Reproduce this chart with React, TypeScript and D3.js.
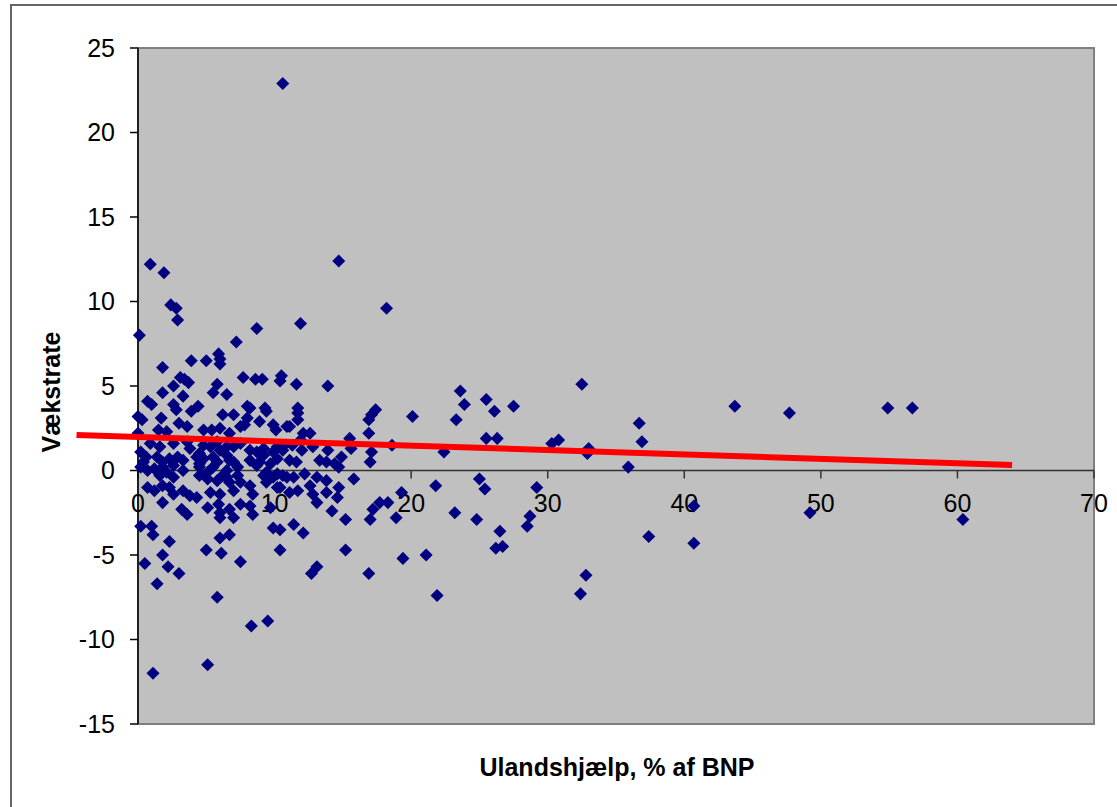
import * as d3 from "d3";

// Ulandshjælp (% af BNP) vs. vækstrate, one entry per observation
const aid = [
  10.6, 14.7, 0.9, 1.9, 2.4, 2.8, 2.9, 0.1, 8.7, 11.9,
  18.2, 7.2, 3.9, 5.0, 5.9, 6.0, 6.0, 1.8, 3.1, 3.4,
  3.7, 2.6, 7.7, 8.6, 9.1, 10.5, 10.4, 5.8, 5.5, 6.5,
  1.8, 3.3, 0.7, 1.0, 2.6, 2.8, 4.4, 3.9, 8.0, 8.2,
  9.3, 9.4, 6.2, 7.0, 0.0, 0.3, 1.7, 8.0, 7.8, 8.9,
  9.9, 10.1, 10.9, 3.0, 3.6, 2.1, 1.5, 4.8, 5.4, 6.0,
  6.7, 7.5, 0.0, 11.6, 13.9, 23.6, 23.9, 23.3, 20.1, 11.7,
  11.7, 11.7, 17.4, 17.1, 16.9, 11.1, 12.1, 12.6, 11.9, 16.9,
  15.5, 15.6, 10.6, 11.3, 12.0, 12.8, 13.9, 14.9, 18.6, 22.4,
  17.1, 17.0, 11.6, 13.3, 13.8, 14.4, 14.7, 10.6, 11.4, 12.2,
  13.1, 13.8, 15.8, 10.4, 11.1, 11.7, 12.6, 12.8, 13.8, 14.7,
  14.6, 13.1, 14.2, 15.2, 17.7, 18.3, 17.2, 17.0, 18.9, 19.3,
  21.8, 23.2, 24.8, 10.4, 11.4, 12.1, 15.2, 10.4, 13.1, 12.7,
  16.9, 19.4, 21.1, 21.9, 32.5, 25.5, 26.1, 27.5, 43.7, 36.7,
  36.9, 25.5, 26.3, 30.3, 30.8, 33.0, 32.9, 35.9, 25.0, 25.4,
  29.2, 28.7, 28.5, 26.5, 26.2, 26.7, 40.7, 37.4, 40.7, 32.8,
  32.4, 54.9, 56.7, 47.7, 60.4, 49.2, 0.2, 1.0, 1.1, 2.3,
  0.5, 1.8, 2.2, 3.0, 1.4, 5.0, 6.1, 6.0, 6.7, 7.5,
  9.9, 5.8, 8.3, 9.5, 1.1, 5.1, 0.2, 0.6,
  // dense cluster near zero
  0.9, 1.6, 2.6, 3.6, 3.8, 4.5, 4.8, 5.3, 5.8, 6.0,
  6.5, 7.0, 7.5, 8.2, 8.7, 9.2, 9.9, 10.2, 10.6,
  0.4, 1.4, 1.8, 2.3, 2.9, 3.3, 4.3, 4.5, 4.8, 5.5,
  5.8, 6.5, 6.7, 7.0, 8.2, 8.9, 9.2, 9.7, 10.2, 11.1,
  0.2, 0.7, 1.2, 1.8, 2.1, 2.6, 3.3, 4.5, 5.1, 5.5,
  6.2, 6.5, 7.3, 7.3, 8.7, 9.4, 10.2, 10.9, 1.6, 2.6,
  4.5, 5.1, 6.5, 9.2, 9.9,
  0.7, 1.2, 1.8, 2.3, 2.6, 3.3, 3.8, 4.3, 5.3, 5.8,
  6.0, 6.7, 7.0, 7.5, 8.2, 8.4, 9.4, 10.2,
  1.8, 3.2, 3.6, 5.1, 5.9, 6.0, 6.7, 7.0, 7.5, 8.2,
  8.4, 9.7, 6.0,
];

const growth = [
  22.9, 12.4, 12.2, 11.7, 9.8, 9.6, 8.9, 8.0, 8.4, 8.7,
  9.6, 7.6, 6.5, 6.5, 6.9, 6.6, 6.3, 6.1, 5.5, 5.4,
  5.2, 5.0, 5.5, 5.4, 5.4, 5.6, 5.3, 5.1, 4.6, 4.5,
  4.6, 4.4, 4.1, 3.9, 3.9, 3.6, 3.8, 3.5, 3.8, 3.7,
  3.7, 3.5, 3.3, 3.3, 3.2, 3.0, 3.1, 3.1, 2.7, 2.9,
  2.7, 2.4, 2.6, 2.8, 2.6, 2.3, 2.4, 2.4, 2.4, 2.5,
  2.2, 2.6, 2.2, 5.1, 5.0, 4.7, 3.9, 3.0, 3.2, 3.7,
  3.4, 3.0, 3.6, 3.3, 3.0, 2.6, 2.2, 2.2, 1.8, 2.2,
  1.9, 1.3, 1.4, 1.5, 1.2, 1.4, 1.2, 0.8, 1.5, 1.1,
  1.1, 0.5, 0.5, 0.6, 0.5, 0.4, 0.2, -0.3, -0.4, -0.2,
  -0.4, -0.6, -0.5, -1.0, -1.3, -1.2, -0.9, -1.4, -1.3, -1.0,
  -1.6, -1.9, -2.4, -2.9, -1.9, -1.9, -2.3, -2.9, -2.8, -1.3,
  -0.9, -2.5, -2.9, -3.5, -3.2, -3.7, -4.7, -4.7, -5.7, -6.1,
  -6.1, -5.2, -5.0, -7.4, 5.1, 4.2, 3.5, 3.8, 3.8, 2.8,
  1.7, 1.9, 1.9, 1.6, 1.8, 1.3, 1.0, 0.2, -0.5, -1.1,
  -1.0, -2.7, -3.3, -3.6, -4.6, -4.5, -2.1, -3.9, -4.3, -6.2,
  -7.3, 3.7, 3.7, 3.4, -2.9, -2.5, -3.3, -3.3, -3.8, -4.2,
  -5.5, -5.0, -5.7, -6.1, -6.7, -4.7, -4.9, -4.0, -3.8, -5.4,
  -3.4, -7.5, -9.2, -8.9, -12.0, -11.5, 1.1, 0.8,
  // dense cluster near zero
  1.6, 1.4, 1.6, 1.7, 1.3, 1.0, 1.5, 1.4, 1.7, 1.2,
  1.4, 1.4, 1.6, 1.2, 1.1, 1.3, 1.1, 1.4, 1.2,
  0.5, 0.8, 0.5, 0.7, 0.8, 0.6, 0.8, 0.4, 0.7, 0.8,
  0.5, 0.9, 0.6, 0.5, 0.6, 0.5, 0.9, 0.4, 0.7, 0.6,
  0.2, 0.0, 0.1, 0.2, -0.1, 0.3, 0.0, 0.2, -0.1, 0.2,
  -0.3, 0.0, 0.2, -0.3, 0.3, -0.1, -0.2, -0.4, -0.3, -0.4,
  -0.3, -0.5, -0.4, -0.3, -0.4,
  -1.0, -1.2, -0.9, -1.0, -1.4, -1.2, -1.5, -1.6, -1.3, -0.6,
  -1.4, -0.7, -1.2, -0.7, -0.9, -1.4, -0.7, -1.0,
  -1.9, -2.3, -2.6, -2.2, -2.0, -2.5, -2.3, -2.8, -2.0, -2.1,
  -2.6, -2.2, -2.8,
];

// linear trend line end points
const trendX = [-4.5, 64];
const trendY = [2.1, 0.33];

const xTicks = [0, 10, 20, 30, 40, 50, 60, 70];
const yTicks = [-15, -10, -5, 0, 5, 10, 15, 20, 25];

const W = 1117;
const H = 807;
const font = "'Liberation Sans', Arial, sans-serif";

export default function App() {
  const x = d3.scaleLinear().domain([0, 70]).range([138, 1094]);
  const y = d3.scaleLinear().domain([-15, 25]).range([724, 48]);
  const y0 = y(0);

  const diamond = d3.symbol(d3.symbolSquare, 85)()!;
  const trend = d3
    .line<number>()
    .x((d) => x(d))
    .y((_, i) => y(trendY[i]))(trendX)!;

  return (
    <svg
      width={W}
      height={H}
      style={{ position: "absolute", left: 0, top: 0, display: "block" }}
      fontFamily={font}
    >
      <rect x={0} y={0} width={W} height={H} fill="#fff" />
      <rect x={11} y={5} width={1200} height={900} fill="#fff" stroke="#666" strokeWidth={2} />

      {/* plot area */}
      <rect x={138} y={48} width={956} height={676} fill="#C0C0C0" stroke="#808080" strokeWidth={2} />

      {/* x axis at y = 0 */}
      <line x1={138} x2={1094} y1={y0} y2={y0} stroke="#333" strokeWidth={1.5} />
      {xTicks.map((t) => (
        <g key={t}>
          <line x1={x(t)} x2={x(t)} y1={y0} y2={y0 + 8} stroke="#333" strokeWidth={1.5} />
          <text x={x(t)} y={y0 + 41} textAnchor="middle" fontSize={25} fill="#000">
            {t}
          </text>
        </g>
      ))}

      {/* y axis */}
      <line x1={138} x2={138} y1={48} y2={724} stroke="#000" strokeWidth={1.5} />
      {yTicks.map((t) => (
        <g key={t}>
          <line x1={130} x2={138} y1={y(t)} y2={y(t)} stroke="#000" strokeWidth={1.5} />
          <text x={115} y={y(t)} dy="0.35em" textAnchor="end" fontSize={25} fill="#000">
            {t}
          </text>
        </g>
      ))}

      {/* points */}
      {aid.map((a, i) => (
        <path
          key={i}
          d={diamond}
          transform={`translate(${x(a)},${y(growth[i])}) rotate(45)`}
          fill="#000080"
        />
      ))}

      {/* trend */}
      <path d={trend} fill="none" stroke="#FF0000" strokeWidth={6} />

      {/* titles */}
      <text
        transform="translate(51,392) rotate(-90)"
        textAnchor="middle"
        dy="0.35em"
        fontSize={25}
        fontWeight="bold"
      >
        Vækstrate
      </text>
      <text x={617} y={776} textAnchor="middle" fontSize={25} fontWeight="bold">
        Ulandshjælp, % af BNP
      </text>
    </svg>
  );
}
